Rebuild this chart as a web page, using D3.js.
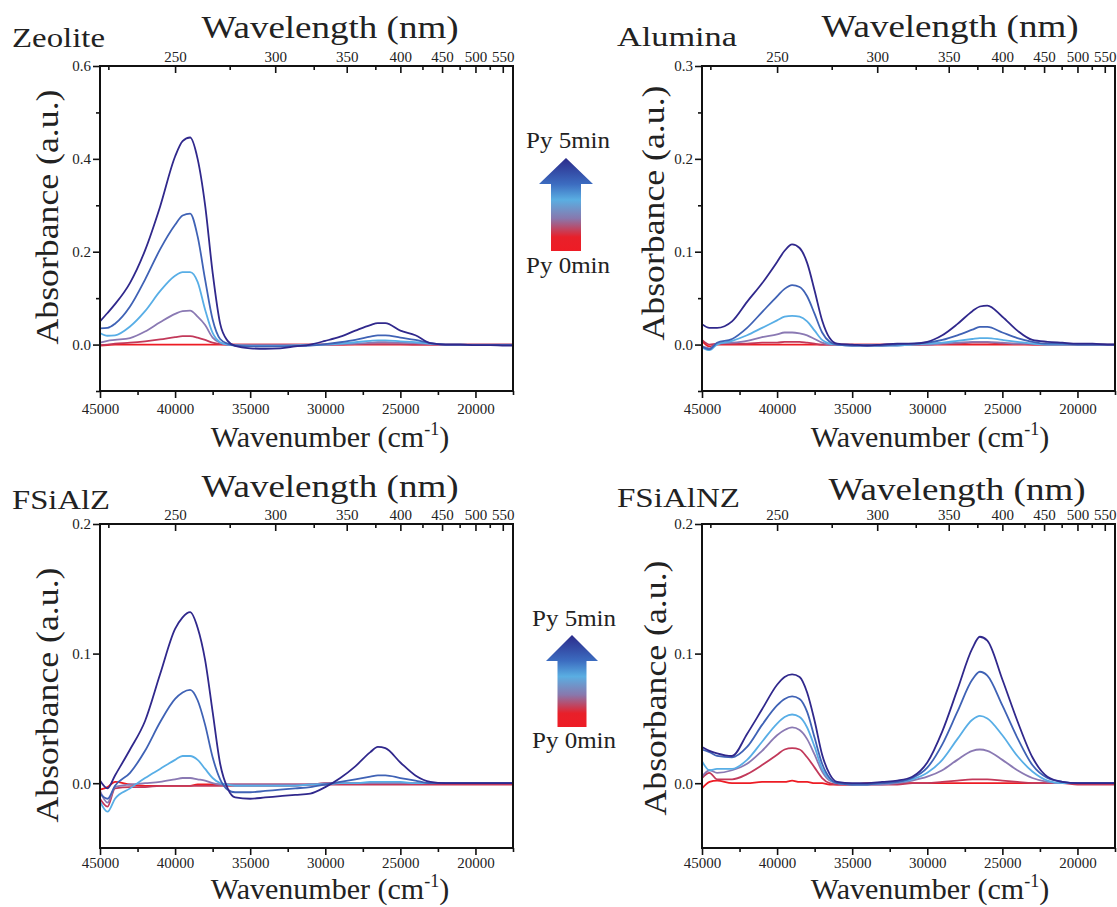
<!DOCTYPE html>
<html><head>
<meta charset="utf-8">
<title>UV-vis pyridine adsorption</title>
<script src="https://cdn.jsdelivr.net/npm/d3@7"></script>
<style>
  body { margin: 0; background: white; }
  svg text { fill: #222; }
</style>
</head>
<body>
<svg id="chart" width="1117" height="907"></svg>
<script>

// wavenumber grid (cm-1) shared by all spectra
const wavenumbers = [45000, 44500, 44000, 43000, 42000, 41000, 40000, 39500, 39000, 38500,
  38000, 37500, 37000, 36500, 36000, 35000, 34000, 33000, 32000, 31000,
  30000, 29000, 28000, 27000, 26500, 26000, 25000, 24000, 23000, 22000,
  21000, 20000, 19000, 18000, 17500];

// series order: Py 0min .. Py 5min
const seriesNames = ["Py 0min", "Py 1min", "Py 2min", "Py 3min", "Py 4min", "Py 5min"];
const seriesColors = ["#ed1c24", "#c2395a", "#8a79b3", "#58aee6", "#3f62b5", "#30288c"];

const zeoliteAbs = [
  [-0.002,-0.001,0,0,0,0,0,0,0,0, 0,0,0,0,0,0,0,0,0,0, 0,0,0,0,0,0,0,0,0,0, 0,0,0,0,0],
  [-0.001,0,0.002,0.004,0.007,0.011,0.016,0.018,0.018,0.015, 0.010,0.004,0.001,0,0,0,0,0,0,0, 0,0,0.001,0.001,0.001,0.001,0.001,0,0,0, 0,0,0,0,0],
  [0.004,0.008,0.010,0.014,0.028,0.048,0.066,0.072,0.073,0.060, 0.042,0.015,0.004,0,-0.001,-0.001,-0.001,-0.001,-0.001,0, 0,0.001,0.002,0.004,0.005,0.005,0.004,0.003,0.001,0, 0,0,0,0,0],
  [0.025,0.019,0.020,0.039,0.072,0.115,0.148,0.156,0.156,0.135, 0.075,0.025,0.005,0,-0.002,-0.003,-0.003,-0.003,-0.002,-0.001, 0,0.002,0.005,0.008,0.009,0.009,0.007,0.005,0.002,0, 0,-0.001,-0.001,-0.001,-0.001],
  [0.035,0.036,0.045,0.082,0.140,0.205,0.258,0.278,0.282,0.233, 0.140,0.054,0.012,0.002,-0.002,-0.004,-0.004,-0.004,-0.003,-0.002, 0.001,0.005,0.010,0.017,0.020,0.020,0.015,0.010,0.003,0, 0,-0.001,-0.001,-0.001,-0.001],
  [0.050,0.068,0.087,0.133,0.203,0.297,0.405,0.438,0.446,0.400, 0.300,0.155,0.045,0.008,-0.003,-0.008,-0.009,-0.008,-0.004,0, 0.008,0.017,0.030,0.042,0.046,0.046,0.030,0.020,0.003,0, 0,-0.001,-0.001,-0.002,-0.002]
];

const aluminaAbs = [
  [0.004,-0.002,0,0,0,0,0,0,0,0, 0,0,0,0,0,0,0,0,0,0, 0,0,0,0,0,0,0,0,0,0, 0,0,0,0,0],
  [0.005,0,0.001,0.001,0.001,0.002,0.002,0.003,0.003,0.003, 0.002,0.001,0,0,0,0,0,0,0,0, 0,0.001,0.001,0.002,0.002,0.002,0.001,0.001,0,0, 0,0,0,0,0],
  [-0.002,-0.004,0.001,0.002,0.004,0.008,0.011,0.013,0.013,0.012, 0.010,0.006,0.002,0,0,-0.001,-0.001,-0.001,-0.001,0, 0,0.001,0.002,0.003,0.003,0.003,0.002,0.001,0.001,0, 0,0,0,0,0],
  [-0.003,-0.006,0,0.004,0.010,0.018,0.026,0.030,0.031,0.030, 0.025,0.015,0.005,0.001,0,-0.001,-0.001,-0.001,-0.001,0, 0.001,0.002,0.004,0.006,0.007,0.007,0.005,0.003,0.001,0, 0,0,0,0,0],
  [-0.002,-0.005,0.002,0.006,0.018,0.035,0.052,0.060,0.064,0.062, 0.052,0.033,0.013,0.003,0,-0.001,-0.001,-0.001,0,0.001, 0.002,0.005,0.010,0.016,0.019,0.019,0.013,0.007,0.003,0.001, 0.001,0,0,0,0],
  [0.022,0.018,0.018,0.025,0.046,0.066,0.089,0.101,0.108,0.104, 0.088,0.058,0.026,0.007,0.001,0,-0.001,0,0.001,0.001, 0.003,0.010,0.022,0.036,0.041,0.042,0.030,0.015,0.005,0.003, 0.002,0.001,0.001,0,0]
];

const fsialzAbs = [
  [-0.005,-0.003,0.001,-0.001,-0.002,-0.002,-0.002,-0.002,-0.002,-0.001, -0.001,-0.001,-0.001,-0.001,-0.001,-0.001,-0.001,-0.001,-0.001,-0.001, 0,0,0,0,0,0,0,0,0,0, 0,0,0,0,0],
  [-0.012,-0.018,-0.004,-0.003,-0.003,-0.002,-0.002,-0.002,-0.002,-0.002, -0.002,-0.002,-0.002,-0.002,-0.002,-0.002,-0.002,-0.002,-0.002,-0.001, -0.001,-0.001,-0.001,-0.001,-0.001,-0.001,-0.001,-0.001,-0.001,-0.001, -0.001,-0.001,-0.001,-0.001,-0.001],
  [-0.006,-0.015,-0.003,-0.001,0,0.001,0.003,0.004,0.004,0.003, 0.002,0,-0.001,-0.001,-0.001,-0.001,-0.001,-0.001,-0.001,-0.001, 0,0,0,0,0,0,0,0,0,0, 0,0,0,0,0],
  [-0.014,-0.022,-0.012,-0.004,0.004,0.011,0.018,0.021,0.021,0.018, 0.011,0.004,0,-0.001,-0.002,-0.002,-0.002,-0.002,-0.002,-0.001, -0.001,0,0,0.001,0.001,0.001,0.001,0,0,0, 0,0,0,0,0],
  [-0.008,-0.012,-0.002,0.008,0.025,0.047,0.065,0.070,0.072,0.064, 0.045,0.020,0.003,-0.005,-0.007,-0.007,-0.006,-0.005,-0.004,-0.003, -0.001,0.001,0.003,0.005,0.006,0.006,0.004,0.002,0,0, 0,0,0,0,0],
  [0.002,-0.004,0.006,0.026,0.048,0.084,0.119,0.128,0.132,0.120, 0.095,0.055,0.015,-0.004,-0.011,-0.012,-0.011,-0.010,-0.009,-0.008, -0.003,0.004,0.013,0.024,0.028,0.027,0.016,0.006,0.001,0, 0,0,0,0,0]
];

const fsialnzAbs = [
  [-0.004,0.001,0.002,0,0,0.001,0.001,0.001,0.002,0.001, 0.001,0,0,-0.001,-0.001,-0.001,0,0,0,0, 0,0,0,0,0,0,0,0,0,0, 0,0,0,0,0],
  [0.004,0.008,0.003,0.003,0.007,0.014,0.022,0.026,0.027,0.026, 0.020,0.012,0.004,0,-0.001,-0.001,-0.001,-0.001,-0.001,0, 0,0.001,0.002,0.003,0.003,0.003,0.002,0.001,0,0, 0,-0.001,-0.001,-0.001,-0.001],
  [0.005,0.010,0.008,0.010,0.015,0.025,0.037,0.041,0.043,0.041, 0.034,0.022,0.009,0.002,0,-0.001,-0.001,-0.001,0,0.002, 0.005,0.010,0.018,0.025,0.026,0.025,0.018,0.010,0.004,0.001, 0,0,0,0,0],
  [0.017,0.010,0.011,0.011,0.018,0.032,0.046,0.051,0.053,0.051, 0.043,0.028,0.011,0.003,0,-0.001,-0.001,0,0.001,0.003, 0.008,0.018,0.034,0.049,0.052,0.050,0.037,0.021,0.009,0.002, 0,0,0,0,0],
  [0.026,0.024,0.021,0.020,0.028,0.045,0.060,0.065,0.067,0.065, 0.055,0.035,0.015,0.004,0,-0.001,-0.001,0,0.001,0.004, 0.012,0.030,0.055,0.080,0.086,0.083,0.060,0.035,0.014,0.004, 0.001,0,0,0,0],
  [0.028,0.025,0.023,0.021,0.038,0.057,0.076,0.082,0.084,0.082, 0.070,0.048,0.022,0.007,0.001,0,0,0.001,0.002,0.005, 0.016,0.040,0.072,0.104,0.113,0.110,0.080,0.048,0.020,0.005, 0.001,0,0,0,0]
];

// axis ticks
const bottomTicks = [45000, 40000, 35000, 30000, 25000, 20000];
const bottomMinor = [42500, 37500, 32500, 27500, 22500, 17500];
const topTicksNm = [250, 300, 350, 400, 450, 500, 550];
const topMinorNm = [225, 275, 325, 375, 425, 475, 525];

const serif = "'Liberation Serif', 'Times New Roman', Tinos, 'DejaVu Serif', 'Noto Serif', FreeSerif, serif";

const svg = d3.select("#chart");

// panel layout
const panels = [
  {name: "Zeolite", data: zeoliteAbs, left: 100, top: 66, bottom: 391,
   yDomain: [-0.1, 0.6], yTicks: [0, 0.2, 0.4, 0.6], yMinor: [-0.1, 0.1, 0.3, 0.5],
   title: [12, 47, 93], wl: [330, 38], wn: [330, 447], ab: [58, 217]},
  {name: "Alumina", data: aluminaAbs, left: 702, top: 66, bottom: 391,
   yDomain: [-0.05, 0.3], yTicks: [0, 0.1, 0.2, 0.3], yMinor: [-0.05, 0.05, 0.15, 0.25],
   title: [617, 46, 120], wl: [950, 37], wn: [930, 447], ab: [664, 213]},
  {name: "FSiAlZ", data: fsialzAbs, left: 100, top: 524, bottom: 848,
   yDomain: [-0.05, 0.2], yTicks: [0, 0.1, 0.2], yMinor: [],
   title: [12, 509, 98], wl: [330, 497], wn: [330, 899], ab: [58, 695]},
  {name: "FSiAlNZ", data: fsialnzAbs, left: 702, top: 524, bottom: 848,
   yDomain: [-0.05, 0.2], yTicks: [0, 0.1, 0.2], yMinor: [],
   title: [617, 507, 123], wl: [957, 500], wn: [930, 899], ab: [666, 688]}
];
const plotWidth = 413;

panels.forEach(function(p, pi) {
  let x = d3.scaleLinear().domain([45000, 17500]).range([p.left, p.left + plotWidth]);
  let y = d3.scaleLinear().domain(p.yDomain).range([p.bottom, p.top]);
  let g = svg.append("g");

  // spectra, 0 min first so 5 min ends on top
  let line = d3.line()
      .x(function(d, i) { return x(wavenumbers[i]); })
      .y(function(d) { return y(d); })
      .curve(d3.curveMonotoneX);
  p.data.forEach(function(series, i) {
    g.append("path")
        .attr("d", line(series))
        .attr("fill", "none")
        .attr("stroke", seriesColors[i])
        .attr("stroke-width", 1.8)
        .attr("stroke-linejoin", "round");
  });

  // left axis, ticks outward
  g.append("g").attr("transform", "translate(" + p.left + ",0)")
      .call(d3.axisLeft(y).tickValues(p.yTicks).tickFormat(d3.format(".1f")).tickSize(7).tickPadding(2).tickSizeOuter(0));
  g.append("g").attr("transform", "translate(" + p.left + ",0)")
      .call(d3.axisLeft(y).tickValues(p.yMinor).tickFormat("").tickSize(4).tickSizeOuter(0));

  // bottom axis, ticks outward (second row is a little more cramped)
  g.append("g").attr("transform", "translate(0," + p.bottom + ")")
      .call(d3.axisBottom(x).tickValues(bottomTicks).tickFormat(d3.format("d")).tickSize(7).tickPadding(pi < 2 ? 5 : 2).tickSizeOuter(0));
  g.append("g").attr("transform", "translate(0," + p.bottom + ")")
      .call(d3.axisBottom(x).tickValues(bottomMinor).tickFormat("").tickSize(4).tickSizeOuter(0));

  // top axis in wavelength, ticks inward
  g.append("g").attr("transform", "translate(0," + p.top + ")")
      .call(d3.axisTop(x).tickValues(topTicksNm.map(function(nm) { return 1e7 / nm; }))
        .tickFormat(function(d) { return Math.round(1e7 / d); }).tickSize(-7).tickPadding(4).tickSizeOuter(0));
  g.append("g").attr("transform", "translate(0," + p.top + ")")
      .call(d3.axisTop(x).tickValues(topMinorNm.map(function(nm) { return 1e7 / nm; }))
        .tickFormat("").tickSize(-4).tickSizeOuter(0));

  g.selectAll(".domain").remove();
  g.selectAll(".tick line").attr("stroke", "#111").attr("stroke-width", 1.6);
  g.selectAll(".tick text").attr("fill", "#333").attr("font-family", serif).attr("font-size", 15);

  // frame
  g.append("rect")
      .attr("x", p.left).attr("y", p.top)
      .attr("width", plotWidth).attr("height", p.bottom - p.top)
      .attr("fill", "none").attr("stroke", "#111").attr("stroke-width", 2);

  // labels
  g.append("text").attr("x", p.title[0]).attr("y", p.title[1])
      .attr("textLength", p.title[2]).attr("lengthAdjust", "spacingAndGlyphs")
      .attr("font-family", serif).attr("font-size", 27).text(p.name);
  g.append("text").attr("x", p.wl[0]).attr("y", p.wl[1]).attr("text-anchor", "middle")
      .attr("textLength", 257).attr("lengthAdjust", "spacingAndGlyphs")
      .attr("font-family", serif).attr("font-size", 32).text("Wavelength (nm)");
  let wn = g.append("text").attr("x", p.wn[0]).attr("y", p.wn[1]).attr("text-anchor", "middle")
      .attr("font-family", serif).attr("font-size", 30);
  wn.append("tspan").text("Wavenumber (cm");
  wn.append("tspan").attr("dy", -12).attr("font-size", 18).text("-1");
  wn.append("tspan").attr("dy", 12).text(")");
  g.append("text")
      .attr("transform", "translate(" + p.ab[0] + "," + p.ab[1] + ") rotate(-90)")
      .attr("text-anchor", "middle")
      .attr("textLength", 255).attr("lengthAdjust", "spacingAndGlyphs")
      .attr("font-family", serif).attr("font-size", 32).text("Absorbance (a.u.)");
});

// gradient arrows between the panels
const arrowStops = [
  {offset: 0, color: "#2b2a8a"}, {offset: 0.28, color: "#3c6cc0"}, {offset: 0.45, color: "#5aaee2"},
  {offset: 0.65, color: "#8878ad"}, {offset: 0.85, color: "#e8202a"}, {offset: 1, color: "#ee1c25"}
];
const arrows = [
  {tipX: 566, tipY: 158, headY: 184, headHalf: 27, shaftHalf: 15, baseY: 251, topLabelY: 148, botLabelY: 273},
  {tipX: 572, tipY: 635, headY: 661, headHalf: 26, shaftHalf: 14.5, baseY: 727, topLabelY: 626, botLabelY: 748}
];
let defs = svg.append("defs");
arrows.forEach(function(a, i) {
  let grad = defs.append("linearGradient").attr("id", "arrowGrad" + i)
      .attr("gradientUnits", "userSpaceOnUse")
      .attr("x1", 0).attr("x2", 0).attr("y1", a.tipY).attr("y2", a.baseY);
  arrowStops.forEach(function(s) {
    grad.append("stop").attr("offset", s.offset).attr("stop-color", s.color);
  });
  let pts = [[a.tipX, a.tipY], [a.tipX + a.headHalf, a.headY], [a.tipX + a.shaftHalf, a.headY],
    [a.tipX + a.shaftHalf, a.baseY], [a.tipX - a.shaftHalf, a.baseY], [a.tipX - a.shaftHalf, a.headY],
    [a.tipX - a.headHalf, a.headY]];
  svg.append("polygon").attr("points", pts.map(function(p) { return p.join(","); }).join(" "))
      .attr("fill", "url(#arrowGrad" + i + ")");
  svg.append("text").attr("x", a.tipX + 2).attr("y", a.topLabelY).attr("text-anchor", "middle")
      .attr("textLength", 84).attr("lengthAdjust", "spacingAndGlyphs")
      .attr("font-family", serif).attr("font-size", 23).text(seriesNames[5]);
  svg.append("text").attr("x", a.tipX + 2).attr("y", a.botLabelY).attr("text-anchor", "middle")
      .attr("textLength", 84).attr("lengthAdjust", "spacingAndGlyphs")
      .attr("font-family", serif).attr("font-size", 23).text(seriesNames[0]);
});

</script>
</body>
</html>
